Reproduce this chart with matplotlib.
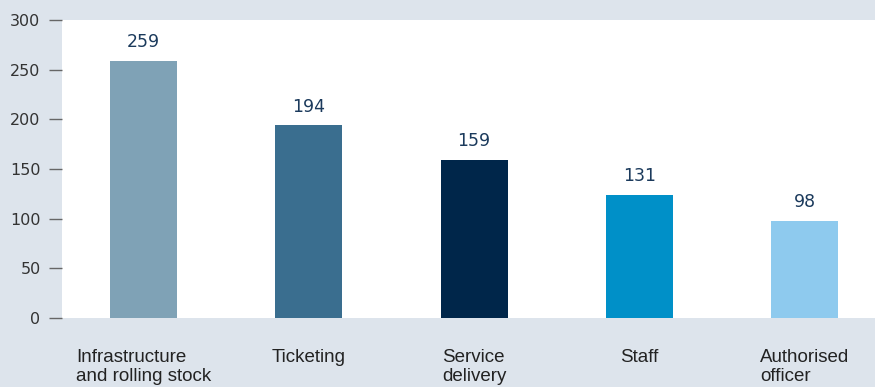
import matplotlib
matplotlib.use('Agg')
import matplotlib.pyplot as plt

# データ
categories = ['Infrastructure\nand rolling stock', 'Ticketing', 'Service\ndelivery', 'Staff', 'Authorised\nofficer']
bar_heights = [259, 194, 159, 124, 98]
value_labels = ['259', '194', '159', '131', '98']
bar_colors = ['#7fa2b6', '#3a6e8f', '#00264a', '#0090c8', '#8ecaee']
yticks = [0, 50, 100, 150, 200, 250, 300]

BG = '#dde4ec'
NUM_FONT = ['DejaVu Sans']
CAT_FONT = ['Liberation Sans', 'DejaVu Sans']

fig = plt.figure(figsize=(8.75, 3.87), dpi=100)
fig.patch.set_facecolor(BG)
ax = fig.add_axes([0.0709, 0.178, 0.9291, 0.770])
ax.set_facecolor('white')

x = list(range(len(categories)))
ax.bar(x, bar_heights, width=0.406, color=bar_colors)

# 棒の上の数値ラベル
for xi, h, lab in zip(x, bar_heights, value_labels):
    ax.annotate(lab, (xi, h), xytext=(0, 7), textcoords='offset points',
                ha='center', va='bottom', fontsize=12.5, color='#1b3a5c',
                family=NUM_FONT)

ax.set_xlim(-0.494, 4.427)
ax.set_ylim(0, 300)
ax.set_yticks(yticks)
ax.set_yticklabels([str(t) for t in yticks], fontsize=11.5, color='#333333',
                   family=NUM_FONT)
ax.tick_params(axis='y', length=9.5, width=1, color='#666666', pad=6)

ax.set_xticks(x)
ax.set_xticklabels(categories, fontsize=13.5, color='#222222', linespacing=1.2,
                   family=CAT_FONT, multialignment='left')
ax.tick_params(axis='x', length=0, pad=22)

for s in ax.spines.values():
    s.set_visible(False)

plt.savefig('out.png', dpi=100, facecolor=BG)
